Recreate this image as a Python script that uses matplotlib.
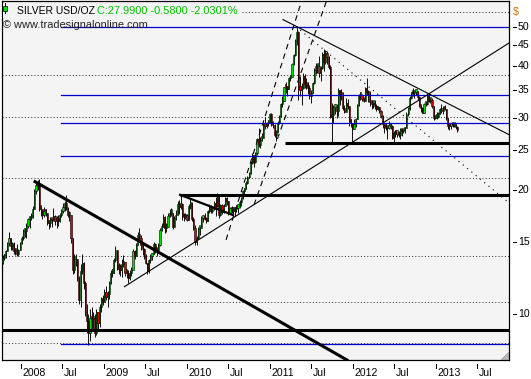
import datetime as dt
import numpy as np
import pandas as pd
import matplotlib
matplotlib.use("Agg")
import matplotlib.pyplot as plt
import matplotlib.dates as mdates
from matplotlib.patches import Rectangle, Polygon
from matplotlib.lines import Line2D
import matplotlib.transforms as mtransforms

# ---------------- data (weekly bars) ----------------
first_week = "2007-10-12"
first_open = 13.3

close_2007 = [13.7, 13.9, 14.2, 14.9, 15.3, 14.6, 14.8, 14.2, 14.2, 14.0, 14.3, 14.9]
high_2007 = [13.9, 14.0, 14.3, 15.0, 15.8, 15.2, 15.0, 15.0, 14.5, 14.8, 14.4, 15.0]
low_2007 = [13.2, 13.5, 13.7, 14.2, 14.6, 14.3, 14.3, 14.0, 13.9, 13.8, 13.8, 14.3]

close_2008 = [15.3, 15.9, 15.9, 16.4, 17.0, 17.1, 17.3, 18.0, 19.9, 20.6, 20.5, 18.0, 18.0,
              17.4, 17.8, 17.6, 16.6, 16.6, 17.0, 16.9, 17.3, 16.8, 17.0, 16.8, 17.4, 17.8,
              18.2, 18.6, 18.0, 17.4, 17.4, 15.3, 12.8, 13.6, 13.6, 12.2, 10.8, 12.7, 13.3,
              11.9, 10.1, 9.6, 9.0, 9.8, 9.7, 9.8, 9.0, 10.1, 9.5, 10.4, 10.9, 10.7]
high_2008 = [15.5, 16.1, 16.2, 16.6, 17.1, 17.3, 17.6, 18.3, 20.1, 20.8, 21.2, 21.3, 18.3,
             18.0, 18.2, 18.0, 17.5, 16.9, 17.2, 17.0, 18.1, 17.4, 17.3, 17.4, 17.6, 18.0,
             18.6, 18.8, 19.5, 18.2, 17.8, 17.1, 15.3, 14.0, 14.0, 13.6, 12.4, 13.2, 14.0,
             13.4, 12.0, 10.6, 10.0, 10.3, 10.4, 10.1, 10.0, 10.3, 10.1, 10.6, 11.0, 11.1]
low_2008 = [14.8, 15.1, 15.4, 15.3, 16.2, 16.2, 16.9, 17.1, 18.0, 19.6, 20.0, 17.8, 17.3,
            17.0, 17.2, 17.3, 16.5, 16.1, 16.3, 16.3, 16.8, 16.5, 16.2, 16.4, 16.7, 17.2,
            17.6, 17.8, 17.9, 17.2, 16.8, 14.9, 12.5, 12.6, 13.1, 12.0, 10.6, 10.4, 12.5,
            11.5, 9.9, 9.0, 8.4, 8.6, 9.1, 9.2, 8.8, 8.9, 9.2, 9.3, 10.1, 10.5]

close_2009 = [11.3, 11.0, 11.2, 11.9, 12.6, 12.6, 13.5, 14.3, 12.9, 13.1, 12.8, 13.2, 13.4,
              12.6, 12.6, 12.2, 12.6, 12.8, 14.2, 13.8, 14.7, 15.6, 15.3, 14.7, 14.4, 13.8,
              13.3, 12.7, 13.5, 13.8, 14.0, 14.8, 14.3, 14.3, 14.7, 16.0, 16.3, 17.2, 16.2,
              16.3, 17.3, 17.6, 17.6, 16.3, 17.1, 17.4, 18.5, 18.2, 18.5, 17.3, 17.2, 17.4]
high_2009 = [11.5, 11.7, 11.4, 12.0, 12.8, 12.9, 13.7, 14.6, 14.2, 13.3, 13.2, 13.6, 13.9,
             13.3, 12.8, 12.8, 12.8, 13.0, 14.4, 14.3, 14.9, 15.8, 16.2, 15.6, 15.0, 14.5,
             14.0, 13.3, 13.6, 14.0, 14.1, 15.0, 14.9, 14.5, 14.9, 16.2, 16.6, 17.5, 17.3,
             16.6, 17.6, 18.0, 18.1, 17.6, 17.3, 17.9, 18.8, 18.9, 19.4, 18.6, 17.6, 17.6]
low_2009 = [10.8, 10.8, 10.4, 10.9, 11.8, 12.3, 12.6, 13.4, 12.8, 12.5, 12.4, 12.3, 13.0,
            12.4, 12.2, 11.9, 12.1, 12.4, 12.8, 13.6, 13.9, 14.7, 15.0, 14.3, 13.9, 13.6,
            13.2, 12.5, 12.6, 13.3, 13.5, 14.0, 14.1, 13.8, 14.2, 14.6, 15.9, 16.3, 15.7,
            15.8, 16.4, 17.2, 17.3, 16.1, 16.3, 16.9, 17.4, 17.5, 18.0, 16.9, 16.8, 17.0]

close_2010 = [16.9, 18.3, 18.6, 17.0, 16.2, 15.0, 15.3, 16.1, 16.2, 17.1, 17.3, 17.0, 16.8,
              17.8, 18.2, 17.8, 18.0, 18.6, 18.3, 19.3, 17.4, 18.4, 17.7, 18.3, 19.1, 18.8,
              17.6, 18.1, 17.8, 17.8, 18.0, 18.1, 18.2, 18.7, 19.1, 19.9, 20.1, 20.8, 21.5,
              22.0, 23.3, 24.3, 23.4, 24.7, 26.7, 25.8, 26.5, 26.8, 29.1, 28.6, 29.1, 29.2, 30.6]
high_2010 = [17.5, 18.5, 19.0, 18.7, 17.2, 16.5, 15.5, 16.3, 16.3, 17.3, 17.4, 17.6, 17.2,
             17.9, 18.5, 18.4, 18.2, 18.8, 19.2, 19.7, 19.4, 18.5, 18.5, 18.5, 19.3, 19.2,
             18.8, 18.2, 18.3, 18.2, 18.2, 18.4, 18.5, 18.9, 19.2, 20.0, 20.2, 21.0, 21.6,
             22.1, 23.5, 24.6, 24.4, 24.8, 26.8, 28.4, 27.0, 27.5, 29.3, 30.2, 29.3, 29.6, 30.9]
low_2010 = [16.8, 17.0, 18.0, 16.8, 16.0, 14.7, 14.7, 15.2, 15.6, 16.2, 16.7, 16.9, 16.6,
            16.8, 17.6, 17.6, 17.6, 17.9, 17.3, 18.2, 17.1, 17.3, 17.5, 17.6, 18.4, 18.4,
            17.4, 17.6, 17.6, 17.4, 17.3, 17.7, 17.6, 18.1, 18.3, 19.0, 19.6, 20.1, 20.7,
            21.4, 21.9, 23.2, 22.8, 23.3, 24.3, 25.5, 25.4, 26.3, 26.9, 28.2, 28.4, 28.7, 29.1]

close_2011 = [28.9, 28.8, 27.3, 27.7, 29.2, 30.3, 32.4, 33.0, 35.6, 35.5, 35.2, 37.4, 37.8,
              40.6, 42.7, 46.1, 48.6, 35.3, 35.1, 35.5, 38.0, 36.2, 35.9, 35.4, 33.8, 34.5,
              36.5, 39.2, 40.0, 40.1, 38.6, 39.6, 43.0, 41.0, 43.2, 42.2, 39.8, 30.1, 30.4,
              31.8, 31.9, 31.2, 35.0, 34.2, 34.0, 31.7, 31.0, 32.6, 32.0, 29.5, 29.2, 28.2]
high_2011 = [30.8, 29.5, 28.9, 28.0, 29.5, 30.4, 32.6, 33.9, 35.7, 36.7, 35.8, 37.7, 38.2,
             40.8, 43.0, 46.7, 49.8, 48.9, 38.0, 36.4, 38.6, 38.4, 37.4, 36.6, 36.1, 35.1,
             36.7, 39.6, 40.7, 40.5, 42.3, 40.0, 43.4, 44.1, 43.9, 43.5, 42.3, 40.4, 32.6,
             32.2, 32.5, 32.4, 35.5, 35.0, 35.3, 34.7, 32.2, 33.6, 33.3, 31.6, 29.8, 29.2]
low_2011 = [28.6, 28.3, 27.0, 26.3, 27.9, 28.9, 30.2, 31.9, 33.5, 34.4, 33.8, 35.7, 36.8,
            37.8, 40.3, 42.5, 45.0, 33.1, 33.9, 32.3, 35.2, 35.5, 35.2, 34.2, 33.4, 32.6,
            34.4, 36.3, 38.3, 38.5, 37.6, 36.8, 39.5, 39.0, 40.6, 40.5, 39.4, 29.9, 26.1,
            29.2, 30.6, 29.9, 30.3, 32.2, 33.2, 31.3, 30.8, 31.8, 31.6, 28.6, 28.5, 26.2]

close_2012 = [28.9, 29.8, 32.3, 34.0, 34.1, 33.4, 33.0, 35.4, 34.6, 34.1, 32.7, 32.5, 32.5,
              32.0, 31.5, 31.7, 31.2, 30.3, 28.9, 28.5, 28.3, 28.3, 28.6, 28.6, 26.8, 27.6,
              27.4, 27.5, 27.2, 28.1, 27.8, 28.0, 28.3, 30.7, 31.7, 33.6, 34.6, 34.4, 34.6,
              34.8, 33.7, 32.1, 31.7, 30.9, 32.4, 32.4, 34.1, 33.0, 33.1, 32.0, 29.9, 30.0]
high_2012 = [29.8, 30.0, 32.4, 34.3, 34.6, 34.3, 33.6, 35.6, 37.5, 35.0, 34.8, 33.2, 32.8,
             33.1, 32.5, 32.1, 31.9, 31.3, 30.4, 29.0, 29.1, 28.6, 29.5, 29.2, 28.8, 27.8,
             28.0, 27.6, 27.9, 28.3, 28.2, 28.2, 28.5, 31.0, 31.8, 33.8, 34.7, 35.4, 34.9,
             35.3, 34.8, 33.8, 32.2, 31.8, 32.6, 32.9, 34.2, 34.3, 33.5, 33.6, 32.0, 30.4]
low_2012 = [28.3, 28.5, 29.9, 32.0, 33.1, 33.0, 32.7, 33.0, 34.0, 32.7, 32.0, 31.6, 31.7,
            31.5, 31.2, 31.3, 30.9, 30.0, 28.4, 27.6, 28.0, 26.7, 28.2, 28.2, 26.6, 26.1,
            26.9, 26.9, 26.9, 26.7, 27.1, 27.6, 27.6, 28.3, 30.3, 31.4, 33.4, 33.9, 33.6,
            34.1, 33.2, 31.9, 31.0, 30.8, 30.9, 32.0, 32.3, 32.7, 32.6, 31.7, 29.6, 29.8]

close_2013 = [30.2, 30.7, 31.5, 31.1, 31.9, 31.5, 29.9, 28.7, 28.6, 28.9, 28.8, 28.9, 28.57, 27.99]
high_2013 = [31.0, 31.0, 31.7, 32.4, 32.1, 32.2, 31.6, 29.9, 29.0, 29.1, 29.2, 29.0, 29.0, 28.6]
low_2013 = [29.8, 29.9, 30.6, 30.9, 30.7, 31.3, 29.7, 28.2, 28.0, 28.2, 28.5, 28.5, 28.2, 27.7]

close = close_2007 + close_2008 + close_2009 + close_2010 + close_2011 + close_2012 + close_2013
high = high_2007 + high_2008 + high_2009 + high_2010 + high_2011 + high_2012 + high_2013
low = low_2007 + low_2008 + low_2009 + low_2010 + low_2011 + low_2012 + low_2013
open_ = [first_open] + close[:-1]

# horizontal levels
fib_levels = [8.44, 24.23, 29.12, 34.10, 50.0]      # blue retracement lines
fib_start = 2008.482
grid_levels = [54.4, 38.2, 30.2, 21.4, 13.87, 10.70, 8.48]
thick_levels = [(2007.70, 9.12), (2009.916, 19.49), (2011.181, 26.0)]   # (start, price)

# trend lines as (year fraction, price)
thick_trend = [(2008.169, 20.98), (2011.928, 7.73)]
thin_rise = [(2009.245, 11.65), (2013.880, 45.6)]
thin_fall = [(2011.157, 52.0), (2013.880, 27.3)]
dot_fall = [(2011.313, 50.0), (2013.880, 18.63)]
dash_a = [(2010.470, 15.14), (2011.386, 58.1)]
dash_b = [(2010.807, 18.42), (2011.687, 58.1)]
wedge = [(2009.916, 19.49), (2010.554, 17.4)]

y_ticks = [10, 15, 20, 25, 30, 35, 40, 45, 50]
x_tick_years = [2008, 2009, 2010, 2011, 2012, 2013]

title_black = "SILVER USD/OZ"
title_green = "C:27.9900 -0.5800 -2.0301%"
copyright_txt = "\u00a9 www.tradesignalonline.com"


def yf2num(yf):
    y = int(np.floor(yf))
    a = mdates.date2num(dt.datetime(y, 1, 1))
    b = mdates.date2num(dt.datetime(y + 1, 1, 1))
    return a + (yf - y) * (b - a)


W, H = 531, 379
FONT = "Liberation Sans"
FS = 7.6
BG = "#F4F4F4"
fig = plt.figure(figsize=(W / 100, H / 100), dpi=100)
fig.patch.set_facecolor("white")
ax = fig.add_axes([2 / W, 19 / H, 507 / W, 359 / H])
ax.set_facecolor(BG)
ax.set_yscale("log")
ax.set_ylim(7.728, 57.7)
ax.set_xlim(yf2num(2007.771), yf2num(2013.880))
ax.set_xticks([])
ax.set_yticks([])
ax.yaxis.set_minor_locator(matplotlib.ticker.NullLocator())
for s in ax.spines.values():
    s.set_color("black")
    s.set_linewidth(0.9)

x0, x1 = ax.get_xlim()

# grid (dotted)
for g in grid_levels:
    ax.plot([x0, x1], [g, g], color="#333333", lw=0.72, ls=(0, (1, 2.2)), zorder=1)

# candles
dates = pd.date_range(first_week, periods=len(close), freq="7D")
xd = mdates.date2num(dates.to_pydatetime())
o = np.array(open_)
c = np.array(close)
h = np.maximum(np.array(high), np.maximum(o, c))
l = np.minimum(np.array(low), np.minimum(o, c))
ax.vlines(xd, l, h, color="black", lw=0.65, zorder=3)
up = c >= o
body_lo = np.minimum(o, c)
body_h = np.maximum(np.abs(c - o), 0.02 * c)
ax.bar(xd[up], body_h[up], bottom=body_lo[up], width=5.0, color="#00E000",
       edgecolor="black", linewidth=0.4, zorder=4)
ax.bar(xd[~up], body_h[~up], bottom=body_lo[~up], width=5.0, color="#E00000",
       edgecolor="black", linewidth=0.4, zorder=4)

# blue fib lines
for f in fib_levels:
    ax.plot([yf2num(fib_start), x1], [f, f], color="#0000CC", lw=0.9, zorder=5)

# thick horizontals
for st, p in thick_levels:
    ax.plot([yf2num(st), x1], [p, p], color="black", lw=2.2, zorder=6, solid_capstyle="butt")


def seg(pts, **kw):
    ax.plot([yf2num(pts[0][0]), yf2num(pts[1][0])], [pts[0][1], pts[1][1]], **kw)


seg(thick_trend, color="black", lw=2.2, zorder=6)
seg(thin_rise, color="black", lw=0.8, zorder=6)
seg(thin_fall, color="black", lw=0.8, zorder=6)
seg(dot_fall, color="black", lw=0.8, ls=(0, (1, 4)), zorder=6)
seg(dash_a, color="black", lw=0.8, ls=(0, (5, 4)), zorder=6)
seg(dash_b, color="black", lw=0.8, ls=(0, (5, 4)), zorder=6)
seg(wedge, color="black", lw=1.6, zorder=6)

# right axis ticks and labels
ytr = ax.get_yaxis_transform()
for v in y_ticks:
    ax.add_line(Line2D([1 + 4 / 507, 1 + 7 / 507], [v, v], transform=ytr, color="black",
                       lw=0.75, clip_on=False))
    ax.text(1 + 9 / 507, v, str(v), transform=ytr, ha="left", va="center",
            fontsize=FS, family=FONT, color="black")
fig.text(513 / W, 1 - 11.5 / H, "$", ha="left", va="center", fontsize=FS,
         family=FONT, color="#D07000")

# bottom axis ticks and labels
xtr = ax.get_xaxis_transform()
lab_off = mtransforms.ScaledTranslation(1.5 / 100, 0, fig.dpi_scale_trans)
for yr in x_tick_years:
    for d, lab in ((dt.datetime(yr, 1, 1), str(yr)), (dt.datetime(yr, 7, 1), "Jul")):
        xn = mdates.date2num(d)
        ax.add_line(Line2D([xn, xn], [-4 / 359, -8 / 359], transform=xtr, color="black",
                           lw=0.75, clip_on=False))
        ax.text(xn, -13.5 / 359, lab, transform=xtr + lab_off, ha="left", va="center",
                fontsize=FS, family=FONT, color="black")

# header (background box hides the dotted grid under the title row)
fig.add_artist(Rectangle((3 / W, 1 - 18 / H), 238 / W, 14 / H, facecolor=BG,
                         edgecolor="none", zorder=9))
fig.text(17.3 / W, 1 - 11 / H, title_black, ha="left", va="center", fontsize=7.5,
         family=FONT, color="black", zorder=10)
fig.text(96.7 / W, 1 - 11 / H, title_green, ha="left", va="center", fontsize=7.9,
         family=FONT, color="#00C000", zorder=10)
fig.text(3.3 / W, 1 - 25.5 / H, copyright_txt, ha="left", va="center", fontsize=7.9,
         family=FONT, color="#222222", zorder=10)
# small candle icon
fig.add_artist(Line2D([4.7 / W, 4.7 / W], [1 - 2.5 / H, 1 - 13 / H], color="black", lw=0.7,
                      zorder=11))
fig.add_artist(Rectangle((2.7 / W, 1 - 10.5 / H), 4 / W, 5 / H, facecolor="#00E000",
                         edgecolor="black", lw=0.5, zorder=12))
# resize grip
fig.add_artist(Polygon([(508 / W, 1 - 352 / H), (508 / W, 1 - 359 / H), (501 / W, 1 - 359 / H)],
                       closed=True, facecolor="#BBBBBB", edgecolor="#888888", lw=0.4))

fig.savefig("out.png", dpi=100, facecolor="white")
